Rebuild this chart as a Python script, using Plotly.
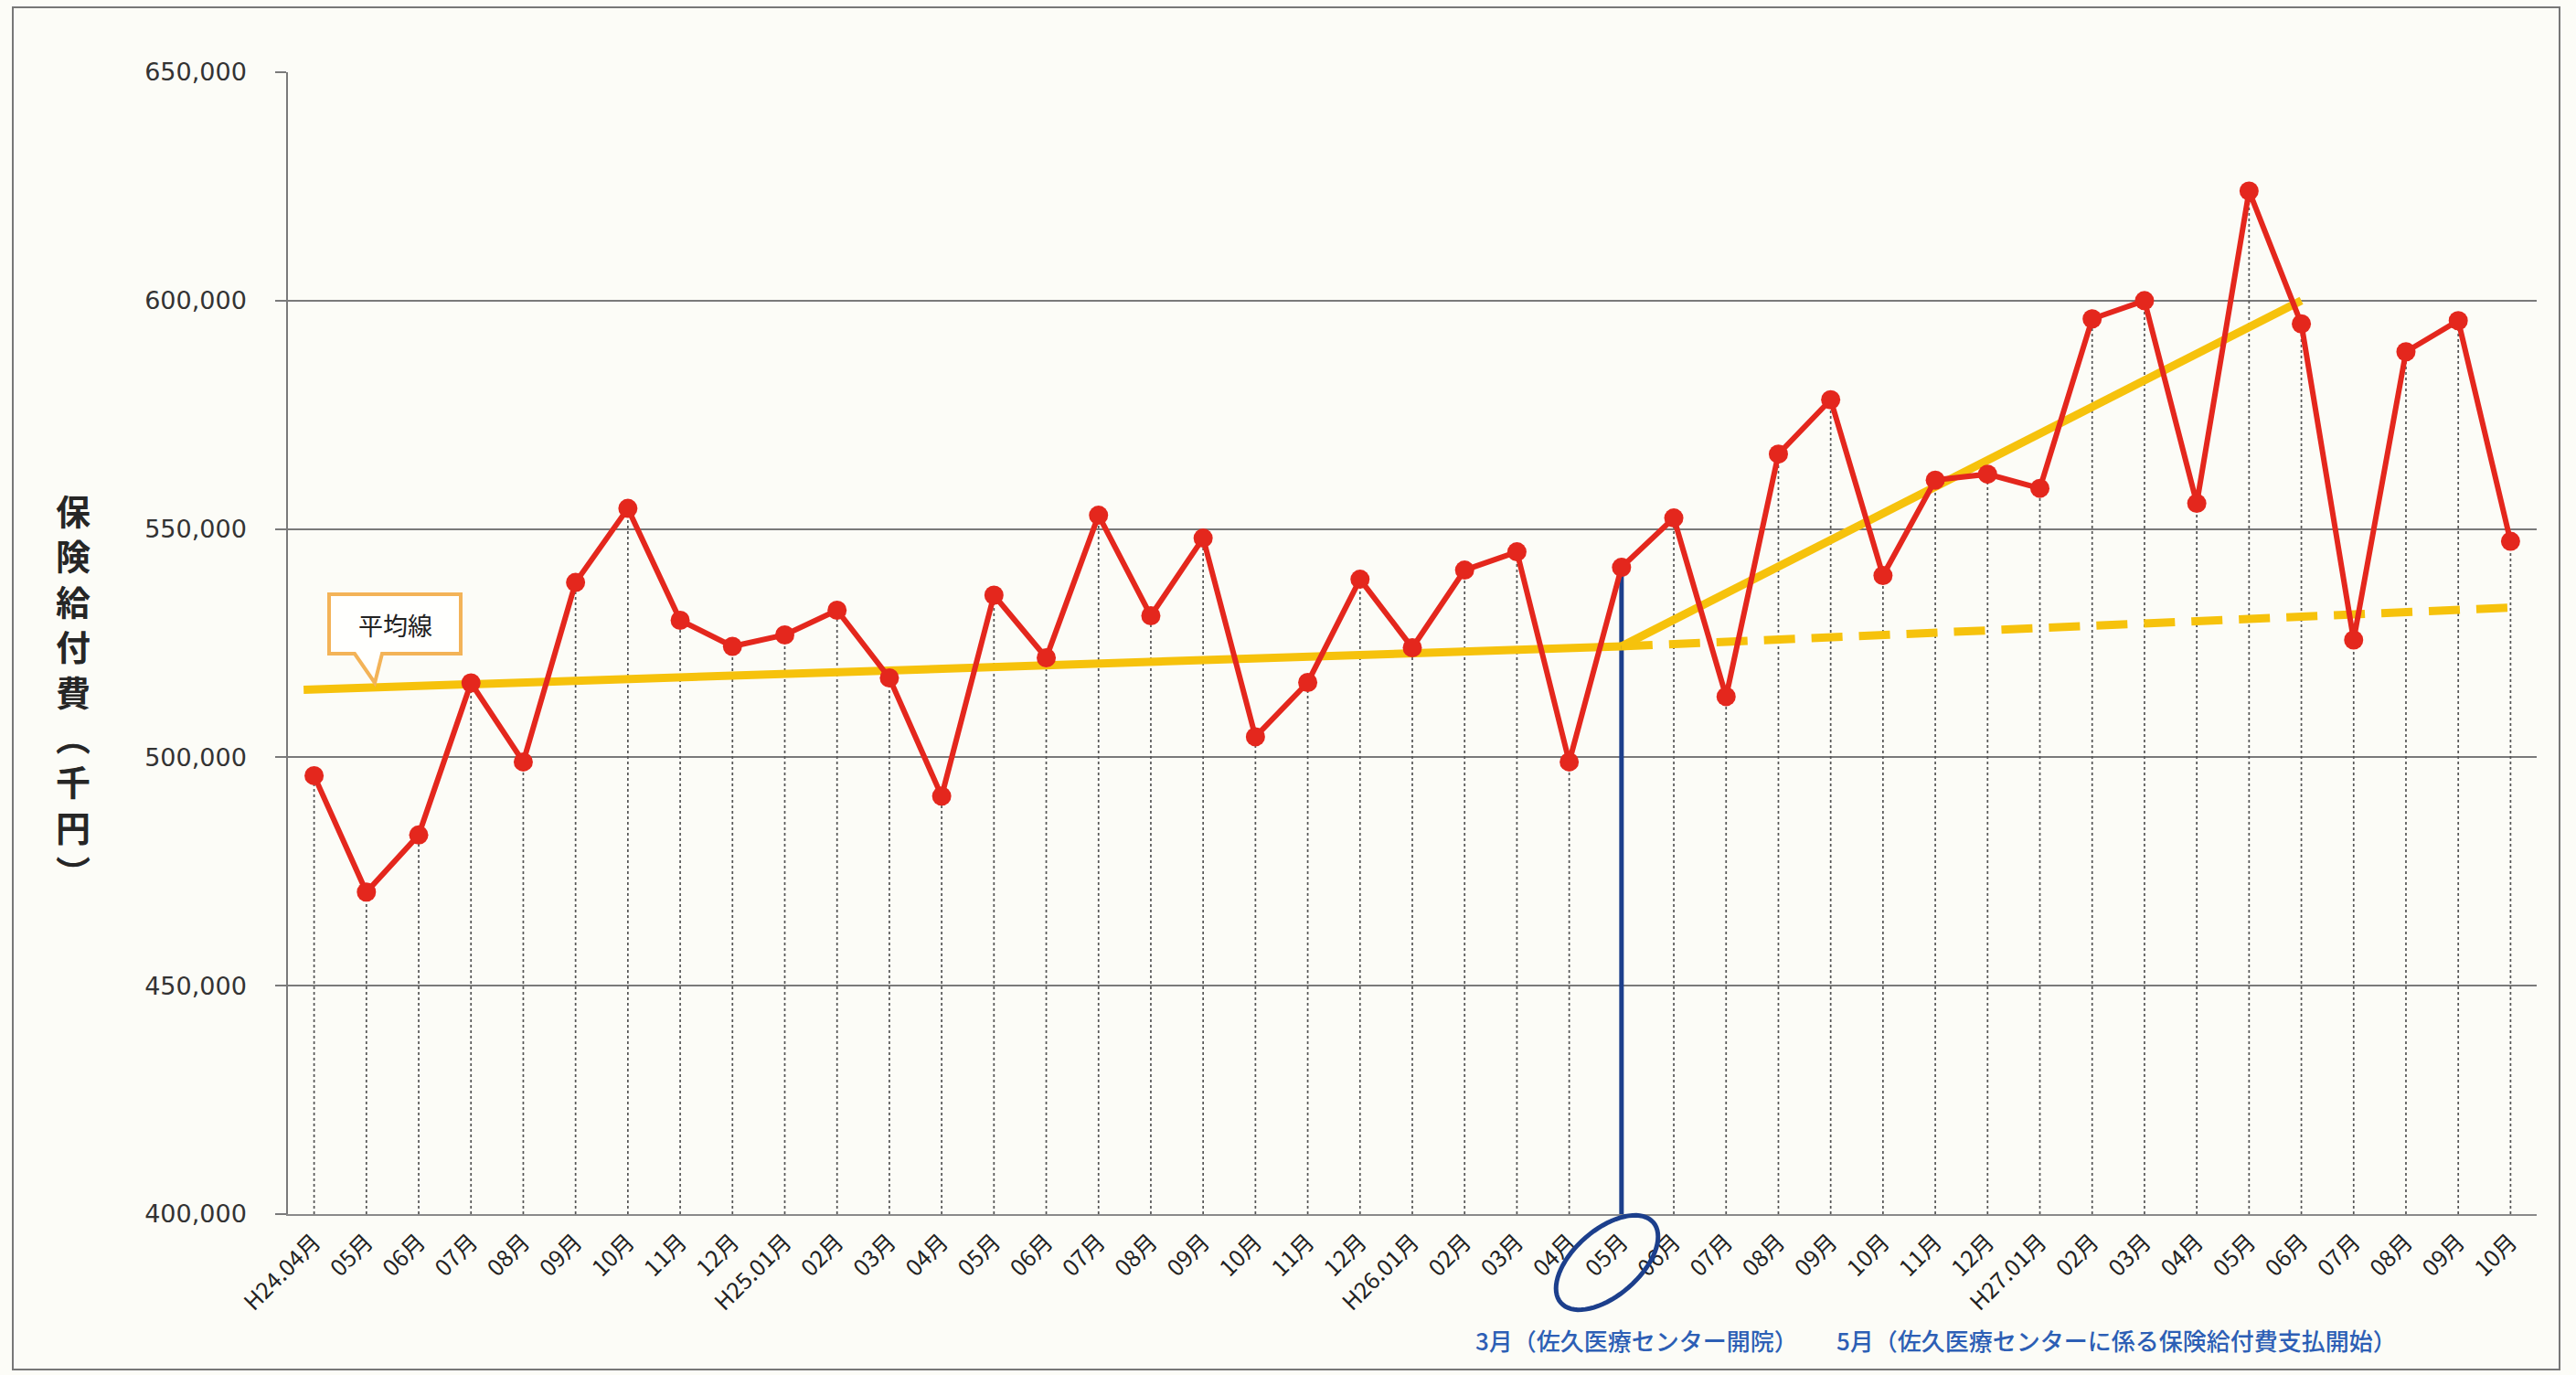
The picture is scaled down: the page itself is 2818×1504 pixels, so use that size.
import numpy as np
import plotly.graph_objects as go

months = ["H24.04月", "05月", "06月", "07月", "08月", "09月", "10月", "11月", "12月",
          "H25.01月", "02月", "03月", "04月", "05月", "06月", "07月", "08月", "09月", "10月", "11月", "12月",
          "H26.01月", "02月", "03月", "04月", "05月", "06月", "07月", "08月", "09月", "10月", "11月", "12月",
          "H27.01月", "02月", "03月", "04月", "05月", "06月", "07月", "08月", "09月", "10月"]
values = [496000, 470500, 483000, 516300, 499000, 538300, 554500, 530000, 524300, 526800,
          532200, 517400, 491500, 535500, 521800, 553000, 531000, 548000, 504500, 516400,
          539000, 524000, 541000, 545000, 499000, 541600, 552400, 513300, 566400, 578300,
          539800, 560700, 562000, 558900, 596000, 600000, 555600, 624000, 594900, 525700,
          588800, 595600, 547300]
avg_before_x = [-0.2, 25]
avg_before_y = [514800, 524300]
avg_after_x = [25, 38]
avg_after_y = [524300, 600000]
avg_flat_x = [25, 42]
avg_flat_y = [524300, 532800]
event_idx = 25
notes = ["3月（佐久医療センター開院）", "5月（佐久医療センターに係る保険給付費支払開始）"]
callout_text = "平均線"
y_title = "保険給付費（千円）"
y_ticks = [400000, 450000, 500000, 550000, 600000, 650000]

W, H = 2818, 1504
L, R, T, B = 315, 2775, 79, 1328


def px(x):
    return (x - L) / (R - L)


def py(y):
    return (B - y) / (B - T)


xs = list(range(len(months)))
fig = go.Figure()

# dotted drop lines
dx, dy = [], []
for i, v in zip(xs, values):
    dx += [i, i, None]
    dy += [y_ticks[0], v, None]
fig.add_trace(go.Scatter(x=dx, y=dy, mode="lines", line=dict(color="#555", width=1.7, dash="dot"),
                         hoverinfo="skip", showlegend=False))

# event vertical line
fig.add_trace(go.Scatter(x=[event_idx, event_idx], y=[y_ticks[0], values[event_idx]], mode="lines",
                         line=dict(color="#1c3f8c", width=5), showlegend=False))

# average lines
fig.add_trace(go.Scatter(x=avg_flat_x, y=avg_flat_y, mode="lines",
                         line=dict(color="#f6c20c", width=9, dash="34px,18px"), showlegend=False))
fig.add_trace(go.Scatter(x=avg_before_x, y=avg_before_y, mode="lines",
                         line=dict(color="#f6c20c", width=9), showlegend=False))
fig.add_trace(go.Scatter(x=avg_after_x, y=avg_after_y, mode="lines",
                         line=dict(color="#f6c20c", width=9), showlegend=False))

# main series
fig.add_trace(go.Scatter(x=xs, y=values, mode="lines+markers",
                         line=dict(color="#e4271d", width=6),
                         marker=dict(color="#e4271d", size=21), showlegend=False))

shapes = []
# outer frame
shapes.append(dict(type="rect", xref="paper", yref="paper", x0=px(14), x1=px(2800), y0=py(1498), y1=py(8),
                   line=dict(color="#777", width=2), layer="below"))
# ellipse around label
cx, cy, a, b, th = 1758, 1381, 67, 36, np.deg2rad(41)
t = np.linspace(0, 2 * np.pi, 73)
ex = cx + a * np.cos(t) * np.cos(th) + b * np.sin(t) * np.sin(th)
ey = cy - a * np.cos(t) * np.sin(th) + b * np.sin(t) * np.cos(th)
path = "M " + " L ".join(f"{px(u):.5f},{py(w):.5f}" for u, w in zip(ex, ey)) + " Z"
shapes.append(dict(type="path", xref="paper", yref="paper", path=path, line=dict(color="#1c3f8c", width=5)))
# callout
cpts = [(360, 650), (504, 650), (504, 715), (418, 715), (410, 747), (388, 715), (360, 715)]
cpath = "M " + " L ".join(f"{px(u):.5f},{py(w):.5f}" for u, w in cpts) + " Z"
shapes.append(dict(type="path", xref="paper", yref="paper", path=cpath,
                   line=dict(color="#f3b358", width=4), fillcolor="#fffffd"))

vertical_title = "<br>".join(list(y_title.replace("（", "︵").replace("）", "︶")))

annotations = [
    dict(text=callout_text, x=px(432), y=py(683), xref="paper", yref="paper", showarrow=False,
         font=dict(family="Noto Sans CJK JP", size=27, color="#222"), xanchor="center", yanchor="middle"),
    dict(text=notes[0], x=px(1612), y=py(1465), xref="paper", yref="paper", showarrow=False,
         font=dict(family="Noto Sans CJK JP", size=26, color="#2d5fb5", weight=500),
         xanchor="left", yanchor="middle"),
    dict(text=notes[1], x=px(2007), y=py(1465), xref="paper", yref="paper", showarrow=False,
         font=dict(family="Noto Sans CJK JP", size=26, color="#2d5fb5", weight=500),
         xanchor="left", yanchor="middle"),
    dict(text=vertical_title, x=px(80), y=py(528), xref="paper", yref="paper", showarrow=False,
         font=dict(family="Noto Sans CJK JP", size=38, color="#262626", weight=700),
         xanchor="center", yanchor="top"),
]

fig.update_layout(
    width=W, height=H,
    margin=dict(l=L, r=W - R, t=T, b=H - B),
    paper_bgcolor="#fcfcf7", plot_bgcolor="#fcfcf7",
    shapes=shapes, annotations=annotations,
    xaxis=dict(range=[-0.5, len(months) - 0.5], tickvals=xs, ticktext=months, tickangle=-45,
               showgrid=False, zeroline=False, showline=True, linecolor="#8a8a8a", linewidth=2,
               ticks="", ticklabelstandoff=4,
               tickfont=dict(family="Noto Sans CJK JP", size=25, color="#222")),
    yaxis=dict(range=[y_ticks[0], y_ticks[-1]], tickvals=y_ticks, tickformat=",d",
               showgrid=True, gridcolor="#7a7a7a", gridwidth=1.5, zeroline=False,
               showline=True, linecolor="#7a7a7a", linewidth=1.5,
               ticks="outside", ticklen=12, tickcolor="#7a7a7a", tickwidth=1.5,
               ticklabelstandoff=26,
               tickfont=dict(family="DejaVu Sans", size=27, color="#333")),
)

fig.write_html("out.html", config={"displayModeBar": False},
               post_script="document.body.style.margin='0px';")
